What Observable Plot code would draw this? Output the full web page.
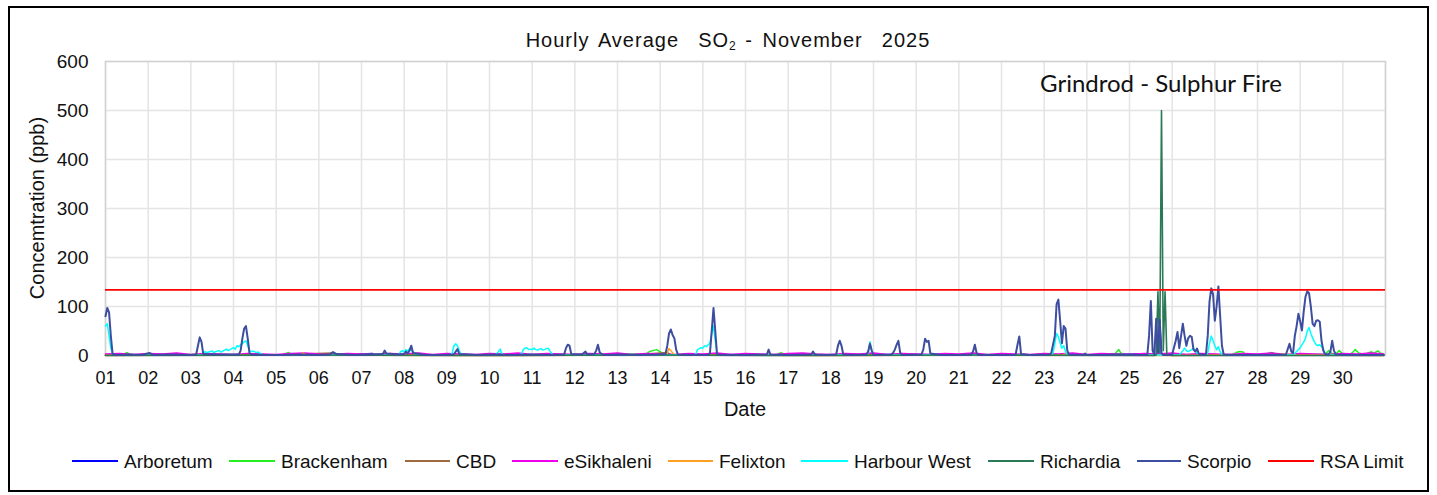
<!DOCTYPE html>
<html>
<head>
<meta charset="utf-8">
<script src="https://cdn.jsdelivr.net/npm/d3@7"></script>
<script src="https://cdn.jsdelivr.net/npm/@observablehq/plot@0.6"></script>
<style>
  body { margin: 0; background: #fff; font-family: "Liberation Sans", Arial, sans-serif; color: #111; }
  #wrap { position: relative; width: 1437px; height: 495px; overflow: hidden; background: #fff; }
  #wrap svg { position: absolute; left: 0; top: 0; }
  #border { position: absolute; left: 8px; top: 6px; width: 1421px; height: 486px; border: 2px solid #000; box-sizing: border-box; pointer-events: none; }
  .ov { position: absolute; white-space: pre; line-height: 1; }
  #title { left: 0; width: 1456px; top: 30px; text-align: center; font-size: 20px; letter-spacing: 1px; word-spacing: 3px; }
  #title sub { font-size: 12px; vertical-align: -3px; letter-spacing: 0; }
  #ylab { left: 37px; top: 208px; font-size: 20px; transform: translate(-50%, -50%) rotate(-90deg); }
  #xlab { left: 745px; top: 399px; font-size: 20px; transform: translateX(-50%); }
  #annot { left: 1161px; top: 71px; font-size: 24px; font-family: Lato, "Open Sans", sans-serif; transform: translateX(-50%); }
  .lg-line { position: absolute; height: 2px; }
  .lg-lab { position: absolute; font-size: 19px; line-height: 1; white-space: pre; }
</style>
</head>
<body>
<div id="wrap">
  <div id="border"></div>
</div>
<script>
// ---------- data (hour index from 2025-11-01 00:00, value in ppb) ----------
const stations = ["Arboretum","Brackenham","CBD","eSikhaleni","Felixton","Harbour West","Richardia","Scorpio","RSA Limit"];
const colors   = ["#0000ff","#22ee22","#9c6a3c","#ee00ee","#ffa020","#00ffff","#2b7a57","#3d4ea0","#ff0000"];
const rsaLimit = 134;
const yTicks = [0,100,200,300,400,500,600];
const dayLabels = ["01","02","03","04","05","06","07","08","09","10","11","12","13","14","15","16","17","18","19","20","21","22","23","24","25","26","27","28","29","30"];

const arboretum = [[0,1],[30,2],[60,1],[100,1],[140,2],[150,4],[152,1],[200,1],[250,2],[300,1],[350,2],[400,1],[450,2],[500,1],[550,1],[580,3],[585,2],[592,3],[593,70],[594,3],[600,1],[650,1],[700,2],[719,1]];

const brackenham = [[0,1],[10,2],[12,6],[14,2],[30,1],[50,2],[80,1],[100,2],[103,6],[105,2],[130,1],[160,3],[162,1],[200,1],[250,1],[280,2],[300,3],[304,3],[306,8],[308,10],[310,12],[312,8],[314,3],[318,1],[350,1],[378,2],[380,6],[382,2],[400,1],[450,1],[500,2],[530,1],[566,2],[568,4],[569,8],[570,12],[571,6],[572,2],[600,1],[634,2],[636,6],[638,8],[640,7],[641,2],[653,2],[655,6],[657,5],[658,2],[686,2],[688,10],[690,4],[692,3],[694,10],[696,3],[700,2],[702,8],[703,12],[705,5],[708,2],[711,6],[712,8],[713,4],[715,8],[716,9],[717,5],[719,3]];

const cbd = [[0,1],[50,1],[100,2],[128,5],[130,1],[200,1],[300,2],[316,6],[318,2],[400,1],[500,1],[600,2],[700,1],[719,1]];

const esikhaleni = [[0,3],[8,4],[16,2],[24,4],[32,3],[40,5],[48,2],[56,4],[64,3],[72,2],[80,4],[88,3],[96,2],[104,4],[112,5],[120,3],[128,2],[136,4],[144,3],[152,2],[160,4],[168,3],[176,5],[184,2],[192,4],[200,3],[208,2],[216,4],[224,3],[232,5],[240,2],[248,4],[256,3],[264,2],[272,4],[280,3],[288,5],[296,2],[304,4],[312,3],[320,2],[328,4],[336,3],[344,5],[352,2],[360,4],[368,3],[376,2],[384,4],[392,5],[400,3],[408,2],[416,4],[424,3],[432,5],[440,2],[448,4],[456,3],[464,2],[472,4],[480,3],[488,5],[496,2],[504,4],[512,3],[520,2],[528,4],[536,3],[544,5],[552,2],[560,4],[568,3],[576,2],[584,4],[592,3],[600,5],[608,2],[616,4],[624,3],[632,2],[640,4],[648,3],[656,5],[664,2],[672,4],[680,3],[688,2],[696,4],[704,3],[712,5],[719,3]];

const felixton = [[0,0],[50,1],[110,1],[111,5],[113,1],[200,0],[315,1],[316,5],[317,14],[318,10],[320,1],[400,0],[538,1],[540,3],[542,1],[600,0],[665,2],[670,1],[719,0]];

const harbourWest = [[0,60],[1,65],[2,40],[3,15],[4,3],[5,1],[20,1],[40,1],[54,1],[55,4],[56,8],[57,6],[58,7],[60,9],[61,6],[62,8],[64,10],[65,7],[66,9],[68,13],[69,10],[70,12],[72,16],[73,13],[74,20],[75,18],[76,22],[77,24],[78,28],[79,30],[80,20],[81,10],[82,8],[83,9],[85,6],[86,7],[88,2],[89,1],[120,1],[160,1],[165,2],[166,8],[167,10],[168,7],[169,12],[170,9],[171,14],[172,10],[173,8],[174,4],[175,1],[194,1],[195,5],[196,20],[197,24],[198,20],[199,10],[200,2],[201,1],[219,1],[220,3],[221,8],[222,13],[223,3],[224,1],[233,1],[234,3],[235,12],[236,15],[237,16],[238,12],[239,13],[240,12],[241,15],[242,12],[243,11],[244,13],[245,14],[246,11],[247,12],[248,14],[249,15],[250,9],[251,4],[252,1],[280,1],[300,1],[331,1],[332,3],[333,12],[334,14],[335,16],[336,15],[337,20],[338,18],[339,22],[340,25],[341,45],[342,60],[343,30],[344,2],[345,1],[400,1],[428,1],[429,5],[430,28],[431,10],[432,1],[500,1],[532,1],[533,5],[534,25],[535,45],[536,38],[537,25],[538,15],[539,20],[540,8],[541,2],[542,1],[600,1],[604,1],[605,5],[606,10],[607,15],[608,10],[609,8],[610,10],[611,12],[612,15],[613,10],[614,5],[616,1],[619,1],[620,5],[621,25],[622,40],[623,30],[624,20],[625,12],[626,18],[627,8],[628,2],[629,1],[668,1],[670,8],[672,16],[674,28],[675,35],[676,50],[677,57],[678,45],[679,36],[680,28],[681,22],[682,20],[683,22],[684,18],[685,15],[686,3],[687,1],[719,1]];

const richardia = [[0,0],[100,1],[200,0],[300,1],[400,0],[500,1],[590,0],[591,1],[592,130],[593,5],[594,500],[595,10],[596,130],[597,1],[600,0],[719,0]];

const scorpio = [[0,80],[1,97],[2,88],[3,40],[4,3],[6,1],[14,2],[20,1],[25,5],[27,1],[36,2],[48,1],[51,2],[52,20],[53,37],[54,28],[55,3],[60,2],[70,2],[75,2],[76,10],[77,35],[78,55],[79,60],[80,35],[81,5],[82,2],[90,1],[100,1],[110,2],[120,1],[126,2],[128,7],[130,3],[140,1],[150,2],[156,3],[157,10],[158,4],[165,2],[168,3],[169,8],[170,4],[171,10],[172,20],[173,5],[180,1],[190,1],[196,2],[197,8],[198,13],[199,3],[210,1],[220,2],[230,1],[240,2],[250,1],[258,2],[259,15],[260,22],[261,20],[262,3],[268,2],[270,8],[271,2],[275,3],[276,10],[277,22],[278,6],[280,1],[290,2],[300,1],[310,2],[315,3],[316,20],[317,45],[318,53],[319,42],[320,35],[321,12],[322,2],[330,1],[339,1],[340,5],[341,50],[342,97],[343,50],[344,2],[350,1],[360,1],[372,2],[373,12],[374,2],[385,1],[397,2],[398,8],[399,2],[405,1],[411,2],[412,20],[413,30],[414,20],[415,2],[420,1],[428,2],[429,8],[430,24],[431,10],[432,1],[442,2],[443,5],[444,12],[445,22],[446,30],[447,6],[448,1],[459,2],[460,12],[461,34],[462,28],[463,30],[464,4],[470,1],[480,1],[487,2],[488,8],[489,22],[490,5],[491,1],[500,1],[511,1],[512,3],[513,22],[514,39],[515,3],[520,1],[531,2],[532,5],[534,40],[535,105],[536,114],[537,70],[538,25],[539,60],[540,55],[541,10],[542,2],[550,1],[551,4],[552,1],[560,1],[570,2],[580,1],[586,1],[587,40],[588,111],[589,10],[590,2],[591,75],[592,8],[593,73],[594,5],[595,1],[598,1],[600,2],[602,30],[603,48],[604,15],[606,65],[607,40],[608,20],[609,35],[610,40],[611,38],[612,12],[613,8],[614,14],[615,3],[618,1],[619,2],[620,40],[621,110],[622,137],[623,125],[624,71],[625,100],[626,141],[627,80],[628,20],[629,2],[635,1],[645,1],[655,1],[664,2],[666,24],[667,8],[668,5],[669,40],[670,60],[671,85],[672,70],[673,51],[674,90],[675,120],[676,131],[677,127],[678,100],[679,65],[680,60],[681,71],[682,72],[683,69],[684,30],[685,10],[686,3],[688,2],[689,8],[690,30],[691,10],[692,2],[700,1],[710,1],[719,1]];

// ---------- build ----------
const t0 = Date.UTC(2025, 10, 1);
const toDate = h => new Date(t0 + h * 3600000);
const seriesList = [arboretum, brackenham, cbd, esikhaleni, felixton, harbourWest, richardia, scorpio];
const widths = [1.5, 1.5, 1.5, 1.5, 1.5, 1.5, 1.6, 2];

const dayTicks = dayLabels.map(d => new Date(Date.UTC(2025, 10, +d)));
const allDays = dayTicks.concat([new Date(Date.UTC(2025, 11, 1))]);

const lineMarks = seriesList.map((s, i) =>
  Plot.line(s.map(([h, v]) => ({date: toDate(h), value: v})), {
    x: "date", y: "value", stroke: colors[i], strokeWidth: widths[i], strokeLinejoin: "round"
  })
);

const chart = Plot.plot({
  width: 1437,
  height: 495,
  marginLeft: 105,
  marginRight: 52,
  marginTop: 61,
  marginBottom: 140,
  style: {fontFamily: '"Liberation Sans", Arial, sans-serif', color: "#111", background: "transparent"},
  x: {type: "utc", domain: [new Date(t0), new Date(Date.UTC(2025, 11, 1))]},
  y: {domain: [0, 600]},
  marks: [
    Plot.ruleY(yTicks, {stroke: "#e4e4e4", strokeWidth: 1.5}),
    Plot.ruleX(allDays, {stroke: "#e4e4e4", strokeWidth: 1.5}),
    Plot.frame({stroke: "#d2d2d2", strokeWidth: 1.5}),
    ...lineMarks,
    Plot.ruleY([rsaLimit], {stroke: colors[8], strokeWidth: 1.6}),
    Plot.axisY({ticks: yTicks, tickSize: 0, tickPadding: 17, label: null, fontSize: 19}),
    Plot.axisX({ticks: dayTicks, tickSize: 0, tickPadding: 16, tickFormat: d => dayLabels[d.getUTCDate() - 1], label: null, fontSize: 18})
  ]
});
const wrap = document.getElementById("wrap");
wrap.insertBefore(chart, wrap.firstChild);

function addText(id, html) {
  const el = document.createElement("div");
  el.className = "ov"; el.id = id; el.innerHTML = html;
  wrap.appendChild(el);
}
addText("title", "Hourly Average  SO<sub>2</sub> - November  2025");
addText("ylab", "Concemtration (ppb)");
addText("xlab", "Date");
addText("annot", "Grindrod - Sulphur Fire");

// legend layout
const lgLine = [72, 229, 405, 512, 668, 801, 988, 1137, 1268];
const lgLab  = [124, 281, 456, 564, 719, 854, 1040, 1187, 1320];
stations.forEach((name, i) => {
  const ln = document.createElement("div");
  ln.className = "lg-line";
  ln.style.left = lgLine[i] + "px"; ln.style.top = "460px";
  ln.style.width = (lgLab[i] - lgLine[i] - 6) + "px";
  ln.style.background = colors[i];
  wrap.appendChild(ln);
  const lb = document.createElement("div");
  lb.className = "lg-lab";
  lb.style.left = lgLab[i] + "px"; lb.style.top = "452px";
  lb.textContent = name;
  wrap.appendChild(lb);
});
</script>
</body>
</html>
